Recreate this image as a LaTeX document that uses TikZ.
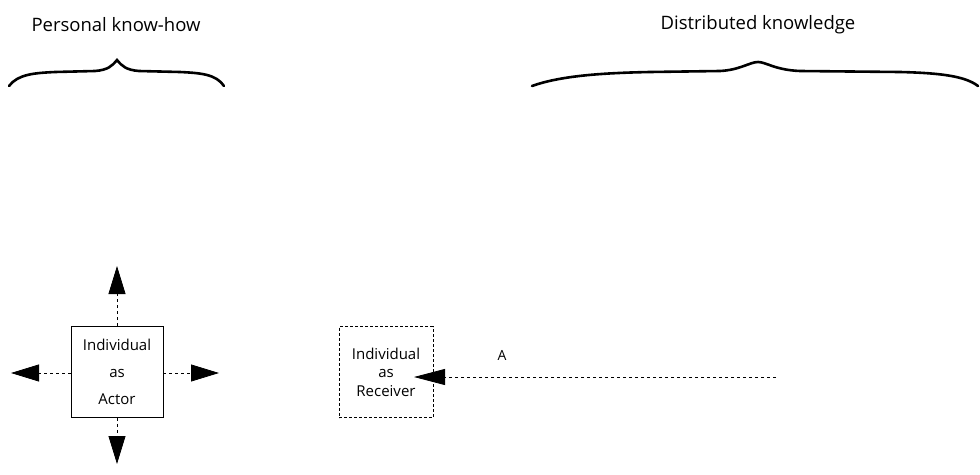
\documentclass[tikz,border=0pt]{standalone}
\usepackage{fontspec}
\setmainfont{Open Sans}
\usetikzlibrary{arrows.meta}
\begin{document}
\begin{tikzpicture}[x=1pt,y=-1pt,
  box/.style={draw,line width=0.6pt,minimum width=92pt,minimum height=91pt,align=center,inner sep=0pt},
  conn/.style={dashed,line width=0.8pt,-{Triangle[length=28pt,width=17pt]}},
  brace/.style={line width=2.6pt,line cap=round},
  title/.style={font=\fontsize{18.5}{20}\selectfont}]
\useasboundingbox (0,0) rectangle (980,474);
\fill[white] (0,0) rectangle (980,474);
% titles
\node[title] (t1) at (116,25) {Personal know-how};
\node[title] (t2) at (758,25) {Distributed knowledge};
% braces
\draw[brace] (9,86) .. controls (18,74) and (35,73) .. (55,72) -- (95,71) .. controls (108,70) and (112,66) .. (117,60)
  .. controls (122,66) and (126,70) .. (139,71) -- (180,72) .. controls (200,73) and (216,74) .. (224,86);
\draw[brace] (532,86) .. controls (560,76) and (600,73) .. (650,72) -- (720,71) .. controls (740,70) and (750,62) .. (758,62)
  .. controls (766,62) and (775,70) .. (800,71) -- (900,72) .. controls (940,73) and (965,76) .. (978,86);
% boxes
\node[box,font=\fontsize{15}{27}\selectfont] (actor) at (117,372) {Individual\\as\\Actor};
\node[box,font=\fontsize{15}{18.5}\selectfont,densely dashed,line width=0.5pt,minimum width=94pt] (recv) at (386,372) {Individual\\as\\Receiver};
% actor arrows
\coordinate (up) at (117,266);
\coordinate (down) at (117,464);
\coordinate (left) at (11,373);
\coordinate (right) at (219,373);
\draw[conn] (actor.north) -- (up);
\draw[conn] (actor.south) -- (down);
\draw[conn] (actor.west |- left) -- (left);
\draw[conn] (actor.east |- right) -- (right);
% receiver arrow
\coordinate (src) at (776,377);
\coordinate (tip) at (414,377);
\draw[conn,-{Triangle[length=31pt,width=16pt]}] (src) -- (tip);
\node[font=\fontsize{14}{16}\selectfont] (A) at (502,355) {A};
\end{tikzpicture}
\end{document}
